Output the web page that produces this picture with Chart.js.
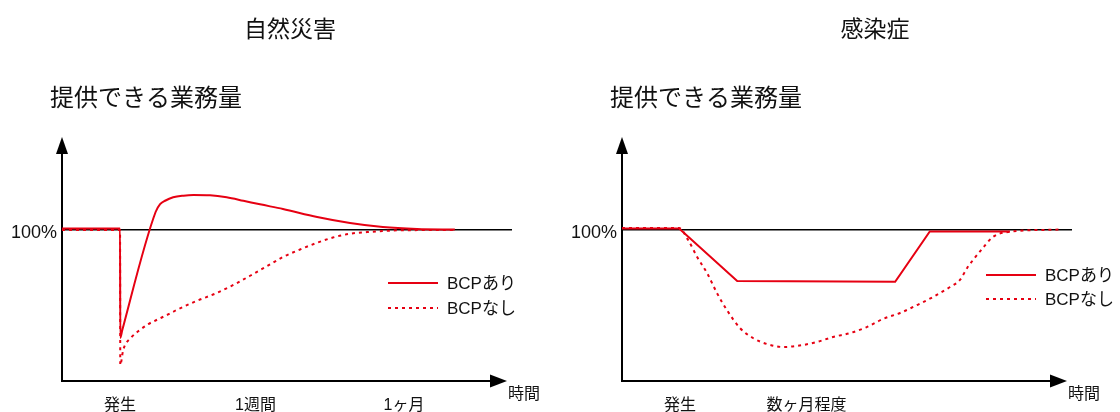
<!DOCTYPE html>
<html lang="ja">
<head>
<meta charset="utf-8">
<title>提供できる業務量の推移（自然災害・感染症）</title>
<script src="https://cdn.jsdelivr.net/npm/chart.js@4.4.1/dist/chart.umd.min.js"></script>
<style>
  html, body { margin: 0; padding: 0; background: #fff; }
  #wrap { display: flex; width: 1120px; height: 412px; }
  canvas { display: block; }
</style>
</head>
<body>
<div id="wrap">
  <canvas id="disaster" width="560" height="412"></canvas>
  <canvas id="infection" width="560" height="412"></canvas>
</div>
<script>
// ---- data: x = elapsed time (relative units, 0-100), y = workload (%) ----
const seriesLabels = ['BCPあり', 'BCPなし'];
const yTickValues = [100];
const yTickLabels = ['100%'];

// 自然災害
const disasterTickValues = [12.9, 43, 76];
const disasterTickLabels = ['発生', '1週間', '1ヶ月'];
const disasterWithBCP = [
  [0, 101], [12.9, 101], [12.95, 28], [13.4, 33.3], [20.8, 112], [21.8, 117.3],
  [22.9, 119.5], [24.7, 121.8], [27, 122.9], [29.2, 123.3], [32.9, 123.1],
  [36.6, 121.8], [40.3, 119.5], [44, 117.1], [49.1, 114], [56.7, 108.7],
  [64, 104.7], [71.3, 102], [78.9, 100.7], [87.3, 100.3]
];
const disasterWithoutBCP = [
  [0, 100], [12.9, 100], [12.95, 10], [13.6, 20], [15.5, 28.7], [17.3, 33.3],
  [19.2, 37.3], [21, 40], [23.3, 43.3], [25.5, 46.7], [29.9, 52.7], [34.4, 58],
  [38.8, 64.5], [41.8, 69.5], [45.6, 76], [49.1, 82], [52.9, 87], [56.7, 91.5],
  [60.2, 95], [64, 97.5], [67.8, 98.6], [71.3, 99.3], [75.1, 99.8], [87.3, 100]
];

// 感染症
const infectionTickValues = [12.9, 41];
const infectionTickLabels = ['発生', '数ヶ月程度'];
const infectionWithBCP = [
  [0, 101], [12.7, 101], [25.6, 66], [60.7, 65.5], [68.4, 99], [86.2, 99]
];
const infectionWithoutBCP = [
  [0, 101.3], [12.7, 101.3], [14.7, 93.3], [16.7, 82], [18.9, 71.3], [21.1, 58],
  [23.3, 46.7], [26.2, 34.7], [29.1, 28], [32.2, 24], [35.8, 22], [38.9, 22.7],
  [43.3, 25.3], [46.9, 28.7], [50.7, 31.3], [54.4, 35.3], [58, 40.7], [61.8, 44.7],
  [65.6, 50], [69.1, 55.3], [72.9, 62], [75.1, 66.7], [76.7, 74.7], [78, 80],
  [80.2, 88], [82.4, 95.3], [85.8, 98.7], [97.3, 100.3]
];

// ---- styling ----
const RED = 'rgb(230,0,18)';
const LATIN_JP = "'Liberation Sans', 'Noto Sans CJK JP', sans-serif";
const JP = "'Noto Sans CJK JP', sans-serif";

const toPoints = arr => arr.map(([x, y]) => ({ x, y }));

// axes with arrowheads, titles and an in-plot legend
const decorations = {
  id: 'decorations',
  beforeDatasetsDraw(chart) {
    const { ctx, chartArea: a } = chart;
    const ax = a.left, ay = a.bottom + 1;
    ctx.save();
    ctx.strokeStyle = '#000';
    ctx.fillStyle = '#000';
    ctx.lineWidth = 2;
    // vertical axis
    ctx.beginPath();
    ctx.moveTo(ax, ay);
    ctx.lineTo(ax, a.top + 12);
    ctx.stroke();
    ctx.beginPath();
    ctx.moveTo(ax, a.top - 3);
    ctx.lineTo(ax - 6, a.top + 14);
    ctx.lineTo(ax + 6, a.top + 14);
    ctx.closePath();
    ctx.fill();
    // horizontal axis
    const tip = a.right - 5;
    ctx.beginPath();
    ctx.moveTo(ax - 1, ay);
    ctx.lineTo(tip - 14, ay);
    ctx.stroke();
    ctx.beginPath();
    ctx.moveTo(tip, ay);
    ctx.lineTo(tip - 17, ay - 6.5);
    ctx.lineTo(tip - 17, ay + 6.5);
    ctx.closePath();
    ctx.fill();
    ctx.restore();
  },
  afterDraw(chart, args, opts) {
    const { ctx, chartArea: a } = chart;
    ctx.save();
    ctx.fillStyle = '#111';
    ctx.textBaseline = 'middle';
    // chart title
    ctx.font = '23px ' + JP;
    ctx.textAlign = 'center';
    ctx.fillText(opts.title, opts.titleX, 28);
    // vertical axis title
    ctx.font = '24px ' + JP;
    ctx.textAlign = 'left';
    ctx.fillText(opts.yTitle, a.left - 12, 97);
    // horizontal axis title
    ctx.font = '16px ' + JP;
    ctx.fillText(opts.xTitle, a.right - 4, a.bottom + 13);
    // legend
    ctx.font = '17px ' + LATIN_JP;
    chart.data.datasets.forEach((ds, i) => {
      const y = opts.legendY + i * opts.legendGap;
      ctx.strokeStyle = ds.borderColor;
      ctx.lineWidth = ds.borderWidth;
      ctx.setLineDash(ds.borderDash || []);
      ctx.beginPath();
      ctx.moveTo(opts.legendX, y);
      ctx.lineTo(opts.legendX + 50, y);
      ctx.stroke();
      ctx.setLineDash([]);
      ctx.fillStyle = '#111';
      ctx.fillText(ds.label, opts.legendX + 59, y + 1);
    });
    ctx.restore();
  }
};

function makeChart(id, withBCP, withoutBCP, tickValues, tickLabels, solidMode, deco) {
  const solid = { label: seriesLabels[0], data: toPoints(withBCP), borderColor: RED,
    borderWidth: 2, pointRadius: 0, tension: 0, fill: false };
  if (solidMode) solid.cubicInterpolationMode = solidMode;
  return new Chart(document.getElementById(id), {
    type: 'line',
    data: {
      datasets: [
        solid,
        { label: seriesLabels[1], data: toPoints(withoutBCP), borderColor: RED,
          borderWidth: 2, borderDash: [3, 4], pointRadius: 0,
          cubicInterpolationMode: 'monotone', fill: false }
      ]
    },
    options: {
      responsive: false,
      animation: false,
      events: [],
      layout: { padding: { top: 140, right: 48, left: 0, bottom: 0 } },
      plugins: {
        legend: { display: false },
        tooltip: { enabled: false },
        decorations: deco
      },
      scales: {
        x: {
          type: 'linear', min: 0, max: 100,
          grid: { display: false },
          border: { display: false },
          afterBuildTicks: s => { s.ticks = tickValues.map(v => ({ value: v })); },
          afterFit: s => { s.height = 32; },
          ticks: {
            autoSkip: false, maxRotation: 0, padding: 8,
            color: '#111', font: { size: 16, family: LATIN_JP },
            callback: v => tickLabels[tickValues.indexOf(v)]
          }
        },
        y: {
          min: 0, max: 160,
          grid: { color: '#000', lineWidth: 1.5, drawTicks: false },
          border: { display: false },
          afterBuildTicks: s => { s.ticks = yTickValues.map(v => ({ value: v })); },
          afterFit: s => { s.width = 62; },
          ticks: {
            padding: 5, labelOffset: 3, color: '#111',
            font: { size: 18, family: LATIN_JP },
            callback: v => yTickLabels[yTickValues.indexOf(v)]
          }
        }
      }
    },
    plugins: [decorations]
  });
}

makeChart('disaster', disasterWithBCP, disasterWithoutBCP, disasterTickValues, disasterTickLabels, 'monotone', {
  title: '自然災害', titleX: 290, yTitle: '提供できる業務量', xTitle: '時間',
  legendX: 388, legendY: 283, legendGap: 25
});
makeChart('infection', infectionWithBCP, infectionWithoutBCP, infectionTickValues, infectionTickLabels, null, {
  title: '感染症', titleX: 315, yTitle: '提供できる業務量', xTitle: '時間',
  legendX: 426, legendY: 275, legendGap: 24
});
</script>
</body>
</html>
